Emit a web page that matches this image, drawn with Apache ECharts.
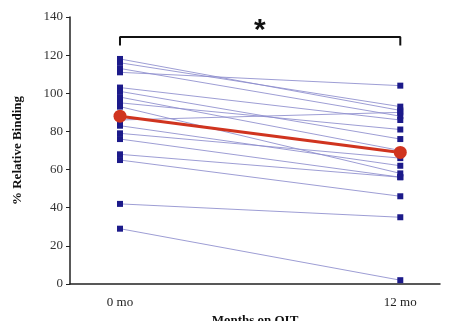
<!DOCTYPE html>
<html lang="en">
<head>
    <meta charset="UTF-8">
    <title>Relative Binding</title>
    <script src="https://cdn.jsdelivr.net/npm/echarts@6.0.0/dist/echarts.min.js"></script>
    <style>
        *{
            margin: 0;
            padding: 0;
        }
        html,body{
            width: 100%;
            height: 100%;
            overflow: hidden;
            background: #fff;
        }
        .container{
            width: 453px;
            height: 321px;
        }
    </style>
</head>
<body>
<div class="container"></div>
<script>
    // time points (months) and tick labels
    const months = [0, 12];
    const tickLabels = ['0 mo', '12 mo'];
    // each subject: % relative binding at 0 mo and 12 mo
    const baseline = [118, 116, 113, 111, 103, 101, 98, 95, 93, 86, 83, 79, 76, 68, 65, 42, 29];
    const month12 = [91, 93, 88, 104, 86, 76, 70, 81, 58, 90, 62, 66, 56, 56, 46, 35, 2];
    // group mean
    const meanValues = [88, 69];
    // significance bracket
    const bracket = [[0, 125], [0, 129.5], [12, 129.5], [12, 125]];

    window.onload = function () {
        let mycharts = echarts.init(document.querySelector('.container'));
        let font = 'Liberation Serif';
        let series = [];

        baseline.forEach((v, i) => {
            series.push({
                type: 'line',
                data: [[months[0], v], [months[1], month12[i]]],
                symbol: 'rect',
                symbolSize: 6,
                itemStyle: {color: '#1c1a8a'},
                lineStyle: {color: '#8c8ccc', width: 1, opacity: 0.85},
                silent: true,
                z: 2
            });
        });

        series.push({
            type: 'line',
            data: months.map((m, i) => [m, meanValues[i]]),
            symbol: 'circle',
            symbolSize: 13,
            itemStyle: {color: '#d0341f'},
            lineStyle: {color: '#d0341f', width: 3},
            z: 5
        });

        series.push({
            type: 'line',
            data: bracket,
            symbol: 'none',
            lineStyle: {color: '#111', width: 2},
            z: 4
        });

        let options = {
            animation: false,
            grid: {left: 70, right: 13, top: 17, bottom: 37, outerBoundsMode: 'none'},
            xAxis: {
                type: 'value',
                min: -2.14,
                max: 13.7,
                name: 'Months on OIT',
                nameLocation: 'middle',
                nameGap: 29,
                nameTextStyle: {fontFamily: font, fontWeight: 'bold', fontSize: 13, color: '#111'},
                axisLine: {onZero: false, lineStyle: {color: '#222', width: 1.5}},
                axisTick: {show: false},
                splitLine: {show: false},
                axisLabel: {
                    customValues: months,
                    formatter: v => tickLabels[months.indexOf(v)],
                    fontFamily: font, fontSize: 13, color: '#222', margin: 12
                }
            },
            yAxis: {
                type: 'value',
                min: 0,
                max: 140,
                interval: 20,
                name: '% Relative Binding',
                nameLocation: 'middle',
                nameGap: 46,
                nameTextStyle: {fontFamily: font, fontWeight: 'bold', fontSize: 13, color: '#111'},
                axisLine: {show: true, onZero: false, lineStyle: {color: '#222', width: 1.5}},
                axisTick: {show: true, length: 4, lineStyle: {color: '#222'}},
                splitLine: {show: false},
                axisLabel: {fontFamily: font, fontSize: 13, color: '#333', margin: 7}
            },
            graphic: [{
                type: 'text',
                left: 254,
                top: 16,
                style: {text: '*', font: 'bold 30px "Liberation Sans"', fill: '#111'}
            }],
            series
        };

        mycharts.setOption(options);
    }
</script>
</body>
</html>
